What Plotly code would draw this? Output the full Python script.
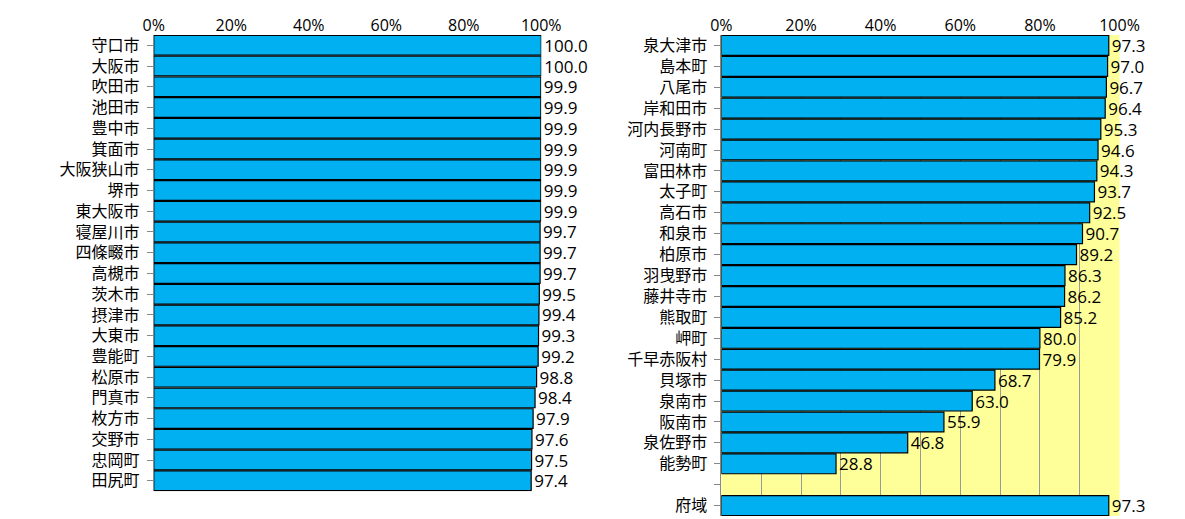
import plotly.graph_objects as go

left_names = ["守口市","大阪市","吹田市","池田市","豊中市","箕面市","大阪狭山市","堺市","東大阪市","寝屋川市","四條畷市","高槻市","茨木市","摂津市","大東市","豊能町","松原市","門真市","枚方市","交野市","忠岡町","田尻町"]
left_vals = [100.0,100.0,99.9,99.9,99.9,99.9,99.9,99.9,99.9,99.7,99.7,99.7,99.5,99.4,99.3,99.2,98.8,98.4,97.9,97.6,97.5,97.4]
right_names = ["泉大津市","島本町","八尾市","岸和田市","河内長野市","河南町","富田林市","太子町","高石市","和泉市","柏原市","羽曳野市","藤井寺市","熊取町","岬町","千早赤阪村","貝塚市","泉南市","阪南市","泉佐野市","能勢町"," ","府域"]
right_vals = [97.3,97.0,96.7,96.4,95.3,94.6,94.3,93.7,92.5,90.7,89.2,86.3,86.2,85.2,80.0,79.9,68.7,63.0,55.9,46.8,28.8,None,97.3]
tick_vals = [0,20,40,60,80,100]
tick_text = ["0%","20%","40%","60%","80%","100%"]

FONT = "Noto Sans CJK JP"
fig = go.Figure()
fig.add_trace(go.Bar(y=left_names, x=left_vals, orientation="h", xaxis="x", yaxis="y",
    marker=dict(color="#00B0F0", line=dict(color="black", width=1.2)),
    text=[f"{v:.1f}" for v in left_vals], textposition="outside", cliponaxis=False,
    constraintext="none", textfont=dict(size=17, color="black", family="Open Sans")))
fig.add_trace(go.Bar(y=right_names, x=right_vals, orientation="h", xaxis="x2", yaxis="y2",
    marker=dict(color="#00B0F0", line=dict(color="black", width=1.2)),
    text=[f"{v:.1f}" if v is not None else "" for v in right_vals], textposition="outside", cliponaxis=False,
    constraintext="none", textfont=dict(size=17, color="black", family="Open Sans")))

ax = dict(range=[0,100], side="top", tickvals=tick_vals, ticktext=tick_text, showline=False,
          tickfont=dict(size=16, color="black", family="Open Sans"), zeroline=False, automargin=False)
yax = dict(autorange="reversed", categoryorder="array", tickfont=dict(size=16),
           ticks="outside", ticklen=6, tickcolor="#888", showline=True, linecolor="#888",
           automargin=False, ticklabelstandoff=4)
fig.update_layout(
    width=1185, height=519, margin=dict(l=0,r=0,t=0,b=0),
    paper_bgcolor="white", plot_bgcolor="white", showlegend=False, bargap=0.05,
    font=dict(family=FONT, color="black"),
    xaxis=dict(domain=[0.123,0.450], anchor="y", showgrid=False, **ax),
    yaxis=dict(domain=[0.069,0.948], anchor="x", categoryarray=left_names, **yax),
    xaxis2=dict(domain=[0.602,0.938], anchor="y2", showgrid=True, gridcolor="#999",
                minor=dict(dtick=10, showgrid=True, gridcolor="#999"), **ax),
    yaxis2=dict(domain=[0.021,0.948], anchor="x2", categoryarray=right_names, **yax),
    shapes=[dict(type="rect", xref="x2 domain", yref="y2 domain", x0=0, x1=1, y0=0, y1=1,
                 fillcolor="#FFFF99", line=dict(width=0), layer="below")],
)
fig.write_html("out.html")
